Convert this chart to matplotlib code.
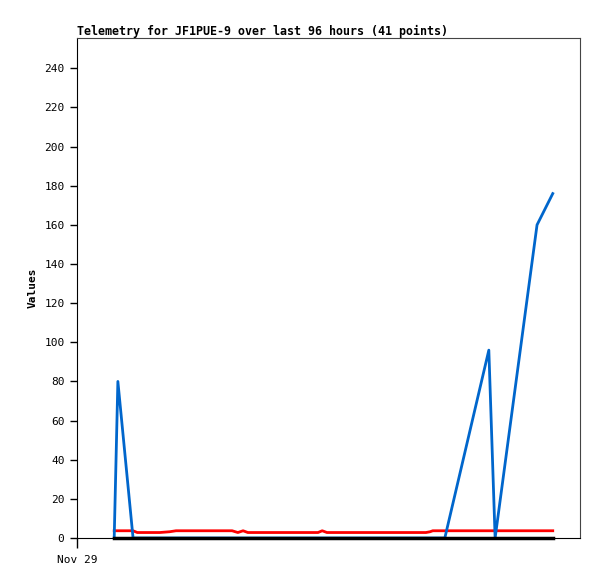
import matplotlib
matplotlib.use('Agg')
import matplotlib.pyplot as plt

# Data: hours since Nov 29 00:00
hours = [7.1, 7.8, 10.7, 11.5, 13.5, 15.8, 17.7, 18.9, 21.6, 22.9, 24.2, 26.9, 29.6,
         30.7, 31.7, 32.6, 35.3, 38.0, 39.3, 40.6, 43.3, 46.0, 46.8, 47.7, 50.2,
         51.3, 52.7, 55.2, 57.6, 60.1, 62.6, 63.9, 65.1, 66.6, 67.4, 67.9, 70.2,
         78.6, 79.8, 87.8, 90.8]
blue_vals = [0, 80, 0, 0, 0, 0, 0, 0, 0, 0, 0, 0, 0,
             0, 0, 0, 0, 0, 0, 0, 0, 0, 0, 0, 0,
             0, 0, 0, 0, 0, 0, 0, 0, 0, 0, 0, 0,
             96, 0, 160, 176]
red_vals = [3.7, 3.7, 3.7, 2.8, 2.8, 2.8, 3.2, 3.7, 3.7, 3.7, 3.7, 3.7, 3.7,
            2.8, 3.7, 2.8, 2.8, 2.8, 2.8, 2.8, 2.8, 2.8, 3.7, 2.8, 2.8,
            2.8, 2.8, 2.8, 2.8, 2.8, 2.8, 2.8, 2.8, 2.8, 3.2, 3.7, 3.7,
            3.7, 3.7, 3.7, 3.7]
black_vals = [0] * len(hours)

yticks = list(range(0, 241, 20))
xtick_pos = [0]
xtick_labels = ['Nov 29']

plt.rcParams['font.family'] = ['DejaVu Sans Mono']

fig = plt.figure(figsize=(5.97, 5.79), dpi=100)
ax = fig.add_axes([77/597, 41/579, (580-77)/597, (538-38)/579])

ax.plot(hours, red_vals, color='#FF0000', linewidth=2)
ax.plot(hours, blue_vals, color='#0066CC', linewidth=2)
ax.plot(hours, black_vals, color='#000000', linewidth=2.5, clip_on=False, zorder=3)

ax.set_xlim(0, 96)
ax.set_ylim(0, 255.5)
ax.set_yticks(yticks)
ax.set_yticklabels([str(v) for v in yticks], fontsize=8)
ax.set_xticks(xtick_pos)
ax.set_xticklabels(xtick_labels, fontsize=8)
ax.tick_params(axis='y', length=5, width=1, pad=4)
ax.tick_params(axis='x', length=7, width=1, pad=5)

for side in ['top', 'right']:
    ax.spines[side].set_color('#444444')
for side in ['left', 'bottom']:
    ax.spines[side].set_color('#000000')

ax.set_ylabel('Values', fontsize=8, fontweight='bold', labelpad=5)
ax.set_title('Telemetry for JF1PUE-9 over last 96 hours (41 points)',
             fontsize=8.4, fontweight='bold', loc='left', pad=2)

fig.savefig('out.png', dpi=100, facecolor='white')
